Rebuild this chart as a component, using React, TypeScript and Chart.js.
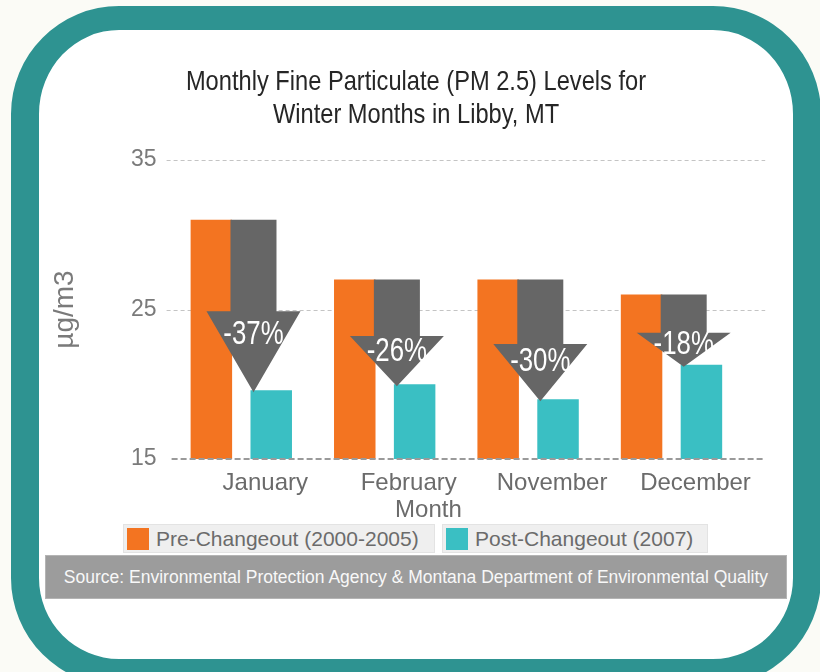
import React, { useEffect, useRef } from "react";
import { Chart, registerables } from "chart.js";

Chart.register(...registerables);

// ---------- data ----------
const months = ["January", "February", "November", "December"];
const preChangeout = [31.0, 27.0, 27.0, 26.0];
const postChangeout = [19.6, 20.0, 19.0, 21.3];
const changeLabels = ["-37%", "-26%", "-30%", "-18%"];
const yTicks = [15, 25, 35];
const seriesNames = ["Pre-Changeout (2000-2005)", "Post-Changeout (2007)"];
const titleLines = [
  "Monthly Fine Particulate (PM 2.5) Levels for",
  "Winter Months in Libby, MT",
];
const xAxisTitle = "Month";
const yAxisTitle = "µg/m3";
const sourceText =
  "Source: Environmental Protection Agency & Montana Department of Environmental Quality";

// ---------- styles ----------
const ORANGE = "#f37421";
const TEAL_BAR = "#3abfc3";
const ARROW = "#666666";
const FRAME = "#2e9391";
const FONT = '"Liberation Sans", Arial, sans-serif';

const overlayPlugin = {
  id: "overlay",
  beforeDatasetsDraw(chart: any) {
    const { ctx, chartArea, scales } = chart;
    const y = scales.y;
    ctx.save();
    ctx.strokeStyle = "#c4c4c4";
    ctx.lineWidth = 1;
    ctx.setLineDash([4, 3]);
    yTicks.forEach((v) => {
      if (v === yTicks[0]) return;
      const py = Math.round(y.getPixelForValue(v)) + 0.5;
      ctx.beginPath();
      ctx.moveTo(chartArea.left - 3, py);
      ctx.lineTo(chartArea.right + 22, py);
      ctx.stroke();
    });
    ctx.restore();
  },
  afterDatasetsDraw(chart: any) {
    const { ctx, chartArea, scales } = chart;
    const y = scales.y;
    // base axis line (dashed, darker)
    ctx.save();
    ctx.strokeStyle = "#9a9a9a";
    ctx.lineWidth = 2;
    ctx.setLineDash([6, 3]);
    const by = y.getPixelForValue(yTicks[0]);
    ctx.beginPath();
    ctx.moveTo(chartArea.left + 2, by);
    ctx.lineTo(chartArea.right + 22, by);
    ctx.stroke();
    ctx.restore();

    // arrows from pre to post
    const postMeta = chart.getDatasetMeta(1);
    const shaftHalf = 23;
    const headHalf = 47;
    postMeta.data.forEach((bar: any, i: number) => {
      const { x, width } = bar.getProps(["x", "width"], true);
      const cx = x - width / 2 + 3;
      const topY = y.getPixelForValue(preChangeout[i]);
      const tipY = y.getPixelForValue(postChangeout[i]) + 2;
      const headY = topY + 0.53 * (tipY - topY);
      ctx.save();
      ctx.fillStyle = ARROW;
      ctx.beginPath();
      ctx.moveTo(cx - shaftHalf, topY);
      ctx.lineTo(cx + shaftHalf, topY);
      ctx.lineTo(cx + shaftHalf, headY);
      ctx.lineTo(cx + headHalf, headY);
      ctx.lineTo(cx, tipY);
      ctx.lineTo(cx - headHalf, headY);
      ctx.lineTo(cx - shaftHalf, headY);
      ctx.closePath();
      ctx.fill();
      // percentage label
      const capCenter = headY + 0.25 * (tipY - headY);
      ctx.translate(cx, capCenter + 12.2);
      ctx.scale(0.76, 1);
      ctx.font = `34px ${FONT}`;
      ctx.fillStyle = "#ffffff";
      ctx.textAlign = "center";
      ctx.textBaseline = "alphabetic";
      ctx.fillText(changeLabels[i], 0, 0);
      ctx.restore();
    });
  },
  afterDraw(chart: any) {
    const { ctx, chartArea } = chart;
    // title (condensed)
    ctx.save();
    ctx.fillStyle = "#262626";
    ctx.font = `28px ${FONT}`;
    ctx.textAlign = "center";
    ctx.textBaseline = "alphabetic";
    const tx = chart.width / 2 + 6;
    titleLines.forEach((line, i) => {
      ctx.save();
      ctx.translate(tx, 90 + i * 33);
      ctx.scale(0.845, 1);
      ctx.fillText(line, 0, 0);
      ctx.restore();
    });
    ctx.restore();
    // x axis title
    ctx.save();
    ctx.fillStyle = "#6b6b6b";
    ctx.font = `24px ${FONT}`;
    ctx.textAlign = "center";
    ctx.textBaseline = "alphabetic";
    ctx.fillText(xAxisTitle, (chartArea.left + chartArea.right) / 2 - 28, chartArea.bottom + 58);
    ctx.restore();
  },
};

export default function App() {
  const ref = useRef<HTMLCanvasElement>(null);

  useEffect(() => {
    if (!ref.current) return;
    const chart = new Chart(ref.current, {
      type: "bar",
      data: {
        labels: months,
        datasets: [
          {
            label: seriesNames[0],
            data: preChangeout,
            backgroundColor: ORANGE,
            categoryPercentage: 0.835,
            barPercentage: 0.693,
          },
          {
            label: seriesNames[1],
            data: postChangeout,
            backgroundColor: TEAL_BAR,
            categoryPercentage: 0.835,
            barPercentage: 0.693,
          },
        ],
      },
      options: {
        responsive: false,
        animation: false,
        devicePixelRatio: 1,
        layout: { padding: { left: 40, right: 76.8, top: 160, bottom: 143 } },
        plugins: {
          legend: { display: false },
          tooltip: { enabled: false },
          title: { display: false },
        },
        scales: {
          x: {
            grid: { display: false, drawTicks: false },
            border: { display: false },
            ticks: {
              font: { family: FONT, size: 24 },
              color: "#6b6b6b",
              padding: 9.5,
              labelOffset: 24,
              maxRotation: 0,
              autoSkip: false,
            },
            afterFit: (s: any) => {
              s.height = 70;
            },
          },
          y: {
            min: 15,
            max: 35,
            afterBuildTicks: (s: any) => {
              s.ticks = yTicks.map((v) => ({ value: v }));
            },
            grid: { display: false, drawTicks: false },
            border: { display: false },
            ticks: {
              font: { family: FONT, size: 23 },
              color: "#7a7a7a",
              padding: 13,
            },
            title: {
              display: true,
              text: yAxisTitle,
              font: { family: FONT, size: 28 },
              color: "#7a7a7a",
              padding: { top: 8.5, bottom: 0 },
            },
            afterFit: (s: any) => {
              s.width = 129.6;
            },
          },
        },
      },
      plugins: [overlayPlugin],
    });
    return () => chart.destroy();
  }, []);

  const legendBox = (left: number, width: number, color: string, text: string) => (
    <div
      style={{
        position: "absolute",
        left,
        top: 524,
        width,
        height: 29,
        boxSizing: "border-box",
        background: "#efefef",
        border: "1px solid #e3e3e3",
        display: "flex",
        alignItems: "center",
        fontFamily: FONT,
        fontSize: 21,
        color: "#6b6b6b",
        whiteSpace: "nowrap",
      }}
    >
      <div
        style={{
          width: 22,
          height: 22,
          background: color,
          marginLeft: 3,
          marginRight: 7,
          flex: "none",
        }}
      />
      <span>{text}</span>
    </div>
  );

  return (
    <div
      style={{
        position: "absolute",
        left: 0,
        top: 0,
        width: 820,
        height: 672,
        overflow: "hidden",
        background: "#fbfbf6",
      }}
    >
      <div
        style={{
          position: "absolute",
          left: 11,
          top: 6,
          width: 810,
          height: 680,
          boxSizing: "border-box",
          borderStyle: "solid",
          borderColor: FRAME,
          borderWidth: "24px 28px 27px 28px",
          borderRadius: 108,
          background: "#ffffff",
        }}
      />
      <canvas
        ref={ref}
        width={820}
        height={672}
        style={{ position: "absolute", left: 0, top: 0, width: 820, height: 672 }}
      />
      {legendBox(123, 312, ORANGE, seriesNames[0])}
      {legendBox(442, 266, TEAL_BAR, seriesNames[1])}
      <div
        style={{
          position: "absolute",
          left: 45,
          top: 555,
          width: 742,
          height: 44,
          boxSizing: "border-box",
          background: "#9c9c9c",
          border: "1px solid #b4b4b4",
          color: "#f8f8f8",
          fontFamily: FONT,
          fontSize: 17.5,
          display: "flex",
          alignItems: "center",
          justifyContent: "center",
          whiteSpace: "nowrap",
        }}
      >
        {sourceText}
      </div>
    </div>
  );
}
